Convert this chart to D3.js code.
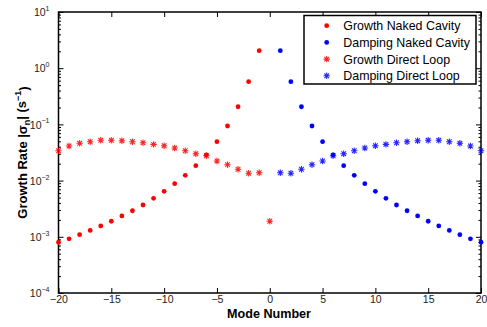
<!DOCTYPE html>
<html><head><meta charset="utf-8">
<script src="https://cdn.jsdelivr.net/npm/d3@7"></script>
<style>
body{margin:0;background:#fff}
svg{display:block;font-family:"Liberation Sans",Arial,Helvetica,sans-serif}
</style>
</head><body>
<svg id="chart" width="487" height="327"></svg>
<script>
// Growth / damping rates per azimuthal mode number
const growthNakedModes = [-20,-19,-18,-17,-16,-15,-14,-13,-12,-11,-10,-9,-8,-7,-6,-5,-4,-3,-2,-1];
const growthNakedRates = [8.0e-4,9.2e-4,1.09e-3,1.30e-3,1.56e-3,1.89e-3,2.35e-3,2.91e-3,3.68e-3,4.84e-3,
                          6.45e-3,8.8e-3,0.0124,0.0184,0.0286,0.0492,0.0937,0.206,0.575,2.05];
const dampingNakedModes = [1,2,3,4,5,6,7,8,9,10,11,12,13,14,15,16,17,18,19,20];
const dampingNakedRates = [2.05,0.575,0.206,0.0937,0.0492,0.0286,0.0184,0.0124,8.8e-3,6.45e-3,
                           4.84e-3,3.68e-3,2.91e-3,2.35e-3,1.89e-3,1.56e-3,1.30e-3,1.09e-3,9.2e-4,8.0e-4];
const growthLoopModes = [-20,-19,-18,-17,-16,-15,-14,-13,-12,-11,-10,-9,-8,-7,-6,-5,-4,-3,-2,-1,0];
const growthLoopRates = [0.0340,0.0413,0.0461,0.0492,0.0521,0.0521,0.0513,0.0492,0.0472,0.0442,
                         0.0418,0.0380,0.0340,0.0301,0.0277,0.0223,0.0192,0.0159,0.0135,0.0138,0.00189];
const dampingLoopModes = [1,2,3,4,5,6,7,8,9,10,11,12,13,14,15,16,17,18,19,20];
const dampingLoopRates = [0.0138,0.0135,0.0159,0.0192,0.0223,0.0277,0.0301,0.0340,0.0380,0.0418,
                          0.0442,0.0472,0.0492,0.0513,0.0521,0.0521,0.0492,0.0461,0.0413,0.0340];

const xTicks = [-20,-15,-10,-5,0,5,10,15,20];
const yTickExponents = [-4,-3,-2,-1,0,1];
const legendLabels = ["Growth Naked Cavity","Damping Naked Cavity","Growth Direct Loop","Damping Direct Loop"];

const RED = "#ff0000", BLUE = "#0000ff";
const series = [
  {modes: growthNakedModes, rates: growthNakedRates, color: RED, marker: "dot"},
  {modes: dampingNakedModes, rates: dampingNakedRates, color: BLUE, marker: "dot"},
  {modes: growthLoopModes, rates: growthLoopRates, color: RED, marker: "star"},
  {modes: dampingLoopModes, rates: dampingLoopRates, color: BLUE, marker: "star"}
];

const svg = d3.select("#chart");
const L = 58.5, R = 481, T = 12, B = 293;

const x = d3.scaleLinear().domain([-20, 20]).range([L, R]);
const y = d3.scaleLog().domain([1e-4, 10]).range([B, T]);

const majorY = yTickExponents.map(e => Math.pow(10, e));
const minorY = [];
yTickExponents.slice(0, -1).forEach(e => {
  for (let k = 2; k <= 9; k++) minorY.push(k * Math.pow(10, e));
});

const minus = v => v < 0 ? "\u2212" + Math.abs(v) : String(v);

// Axis box and inward ticks
function styleAxis(g) {
  g.select(".domain").remove();
  g.selectAll(".tick line").attr("stroke", "#000").attr("stroke-width", 1);
}
svg.append("g").attr("transform", `translate(0,${B})`)
  .call(d3.axisBottom(x).tickValues(xTicks).tickSizeInner(-5).tickSizeOuter(0).tickPadding(3)
        .tickFormat(minus))
  .call(styleAxis)
  .call(g => g.selectAll("text").attr("font-size", 10.5).attr("fill", "#222")
                .attr("font-family", '"Liberation Sans",Arial,sans-serif'));
svg.append("g").attr("transform", `translate(0,${T})`)
  .call(d3.axisTop(x).tickValues(xTicks).tickSizeInner(-5).tickSizeOuter(0).tickFormat(""))
  .call(styleAxis);

svg.append("g").attr("transform", `translate(${L},0)`)
  .call(d3.axisLeft(y).tickValues(majorY).tickSizeInner(-5).tickSizeOuter(0).tickFormat(""))
  .call(styleAxis)
  .call(g => g.selectAll(".tick").each(function(d) {
    const e = Math.round(Math.log10(d));
    const t = d3.select(this).append("text")
      .attr("x", -9).attr("dy", "0.35em").attr("text-anchor", "end")
      .attr("fill", "#222").attr("font-size", 10.5)
      .attr("font-family", '"Liberation Sans",Arial,sans-serif');
    t.append("tspan").text("10");
    t.append("tspan").attr("font-size", 7).attr("dy", "-0.75em").text(minus(e));
  }));
svg.append("g").attr("transform", `translate(${L},0)`)
  .call(d3.axisLeft(y).tickValues(minorY).tickSizeInner(-2.5).tickSizeOuter(0).tickFormat(""))
  .call(styleAxis);
svg.append("g").attr("transform", `translate(${R},0)`)
  .call(d3.axisRight(y).tickValues(majorY).tickSizeInner(-5).tickSizeOuter(0).tickFormat(""))
  .call(styleAxis);
svg.append("g").attr("transform", `translate(${R},0)`)
  .call(d3.axisRight(y).tickValues(minorY).tickSizeInner(-2.5).tickSizeOuter(0).tickFormat(""))
  .call(styleAxis);

svg.append("rect").attr("x", L).attr("y", T).attr("width", R - L).attr("height", B - T)
  .attr("fill", "none").attr("stroke", "#000").attr("stroke-width", 1.5);

// Markers: filled dots and eight-armed asterisks
const starPath = s => {
  const d = s * 0.72;
  return `M${-s},0L${s},0M0,${-s}L0,${s}M${-d},${-d}L${d},${d}M${-d},${d}L${d},${-d}`;
};
function drawMarker(g, type, color) {
  if (type === "dot") {
    g.append("circle").attr("r", 2.4).attr("fill", color);
  } else {
    g.append("path").attr("d", starPath(3.2)).attr("stroke", color)
      .attr("stroke-width", 1.1).attr("fill", "none").attr("opacity", 0.85);
  }
}

const plot = svg.append("g");
series.forEach(s => {
  s.modes.forEach((m, i) => {
    const g = plot.append("g").attr("transform", `translate(${x(m)},${y(s.rates[i])})`);
    drawMarker(g, s.marker, s.color);
  });
});

// Legend
const lg = svg.append("g");
lg.append("rect").attr("x", 304).attr("y", 15.5).attr("width", 172).attr("height", 68.5)
  .attr("fill", "#fff").attr("stroke", "#000").attr("stroke-width", 1.5);
legendLabels.forEach((lab, i) => {
  const yy = 25.7 + i * 16.7;
  const mg = lg.append("g").attr("transform", `translate(326.7,${yy})`);
  drawMarker(mg, series[i].marker, series[i].color);
  lg.append("text").attr("x", 343.3).attr("y", yy).attr("dy", "0.36em")
    .attr("font-size", 12.4).attr("fill", "#000").text(lab);
});

// Axis titles
svg.append("text").attr("x", 269).attr("y", 318.3).attr("text-anchor", "middle")
  .attr("font-size", 12.6).attr("font-weight", "bold").text("Mode Number");

const yl = svg.append("text").attr("transform", "translate(27,152.5) rotate(-90)")
  .attr("text-anchor", "middle").attr("font-size", 13).attr("font-weight", "bold");
yl.append("tspan").text("Growth Rate |\u03c3");
yl.append("tspan").attr("font-size", 9).attr("dy", "0.3em").text("n");
yl.append("tspan").attr("dy", "-0.3em").text("| (s");
yl.append("tspan").attr("font-size", 9).attr("dy", "-0.5em").text("\u22121");
yl.append("tspan").attr("dy", "0.5em").text(")");
</script>
</body></html>
